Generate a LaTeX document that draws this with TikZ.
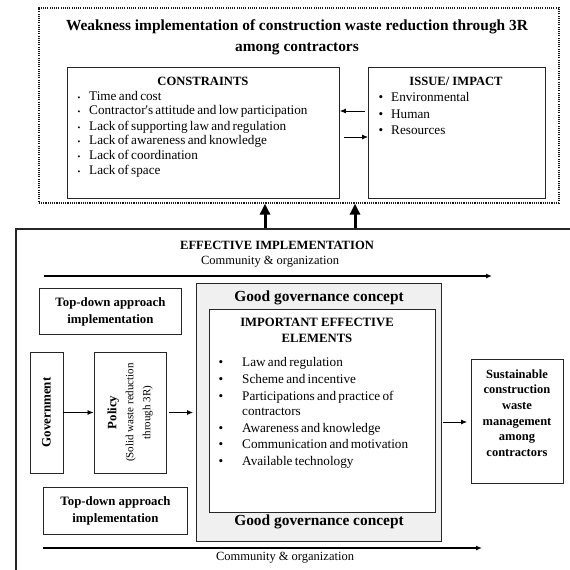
\documentclass[tikz,border=0pt]{standalone}
\usepackage{fontspec}
\setmainfont{Liberation Serif}
\newfontfamily\tightfont[WordSpace=0.7]{Liberation Serif}
\usetikzlibrary{arrows.meta}
\begin{document}
\begin{tikzpicture}[x=1pt,y=-1pt,
  box/.style={draw=black!85, line width=0.9pt, inner sep=0pt, anchor=north west},
  txt/.style={inner sep=0pt, font=\tightfont\fontsize{13.2}{14}\selectfont},
  btxt/.style={inner sep=0pt, font=\fontsize{12.6}{14}\selectfont\bfseries},
  arr/.style={-{Latex[length=6pt,width=5pt]}, line width=0.8pt},
  uparr/.style={-{Triangle[length=11pt,width=10pt]}, line width=3pt},
]
\useasboundingbox (0,0) rectangle (570,570);
% top dotted region
\node[draw=black!90, dash pattern=on 1.1pt off 1.1pt, line width=1.6pt, minimum width=520pt, minimum height=195pt, anchor=north west, inner sep=0pt] (weak) at (38,7) {};
\node[inner sep=0pt, align=center, font=\fontsize{15.4}{21}\selectfont\bfseries] (title) at (297,37) {Weakness implementation of construction waste reduction through 3R\\among contractors};
\node[box, minimum width=272pt, minimum height=131pt] (cons) at (67,67) {};
\node[box, minimum width=177pt, minimum height=131pt] (issue) at (368,67) {};
\node[btxt] (consh) at (203,81) {CONSTRAINTS};
\node[btxt] (issueh) at (456,81) {ISSUE/ IMPACT};
\foreach \t/\y [count=\i] in {Time and cost/96, Contractor's attitude and low participation/110, Lack of supporting law and regulation/126, Lack of awareness and knowledge/140, Lack of coordination/155, Lack of space/170}{
  \node[txt, anchor=base west] (c\i) at (89,\y+4) {\t};
  \node[txt, anchor=base] (cb\i) at (79,\y+4) {\footnotesize\textbullet};
}
\foreach \t/\y [count=\i] in {Environmental/97, Human/114, Resources/130}{
  \node[txt, anchor=base west] (s\i) at (391,\y+4) {\t};
  \node[txt, anchor=base] (sb\i) at (381,\y+4) {\textbullet};
}
\draw[arr] (issue.west |- {(0,111)}) ++(-3,0) -- (cons.east |- {(0,111)});
\draw[arr] (cons.east |- {(0,137)}) ++(4,0) -- (issue.west |- {(0,137)});
% bottom region
\node[draw=black!85, line width=2pt, minimum width=580pt, minimum height=360pt, anchor=north west, inner sep=0pt] (eff) at (15,228) {};
\draw[uparr] (eff.north -| {(265,0)}) -- (weak.south -| {(265,0)});
\draw[uparr] (eff.north -| {(355,0)}) -- (weak.south -| {(355,0)});
\node[btxt] (effh) at (277,245) {EFFECTIVE IMPLEMENTATION};
\node[inner sep=0pt, font=\fontsize{12.5}{14}\selectfont] (com1) at (270,262) {Community \& organization};
\coordinate (t1) at (44,276);
\coordinate (t2) at (492,276);
\draw[arr, line width=1.3pt] (t1) -- (t2);
\node[box, minimum width=142pt, minimum height=46pt, align=center, font=\fontsize{12.8}{17}\selectfont\bfseries] (td1) at (39,288) {Top-down approach\\implementation};
\node[box, minimum width=144pt, minimum height=47pt, align=center, font=\fontsize{12.8}{17}\selectfont\bfseries] (td2) at (43,487) {Top-down approach\\implementation};
\node[draw=black!85, line width=0.9pt, inner sep=0pt, rotate=90, minimum width=121pt, minimum height=33pt, font=\fontsize{13}{15}\selectfont\bfseries] (gov) at (46.5,412.5) {Government};
\node[draw=black!85, line width=0.9pt, inner sep=0pt, rotate=90, minimum width=121pt, minimum height=72pt, align=center, font=\fontsize{11}{13}\selectfont] (pol) at (130,412.5) {{\fontsize{12.8}{13}\selectfont\textbf{Policy}}\\[4pt](Solid waste reduction\\[4pt]through 3R)};
\node[box, fill=black!6, minimum width=245pt, minimum height=258pt] (gg) at (196,283) {};
\node[box, fill=white, minimum width=226pt, minimum height=203pt] (imp) at (209,309) {};
\node[inner sep=0pt, font=\fontsize{15.4}{17}\selectfont\bfseries] (gg1) at (319,298) {Good governance concept};
\node[inner sep=0pt, font=\fontsize{15.4}{17}\selectfont\bfseries] (gg2) at (319,522) {Good governance concept};
\node[align=center, inner sep=0pt, font=\fontsize{12.7}{16}\selectfont\bfseries] (imph) at (317,330) {IMPORTANT EFFECTIVE\\ELEMENTS};
\foreach \t/\y [count=\i] in {Law and regulation/362, Scheme and incentive/379, Participations and practice of/396, Awareness and knowledge/428, Communication and motivation/444, Available technology/461}{
  \node[txt, anchor=base west] (e\i) at (242,\y+4) {\t};
  \node[txt, anchor=base] (eb\i) at (221,\y+4) {\textbullet};
}
\node[txt, anchor=base west] (e7) at (242,415) {contractors};
\node[box, minimum width=92pt, minimum height=124pt] (sus) at (471,359) {};
\node[inner sep=0pt, align=center, font=\fontsize{12.5}{15.6}\selectfont\bfseries] (sust) at (517,413) {Sustainable\\construction\\waste\\management\\among\\contractors};
\draw[arr] (gov) -- (pol);
\draw[arr, shorten <=3pt, shorten >=3pt] (pol) -- (gg.west |- pol);
\draw[arr, shorten <=1pt, shorten >=4pt] (gg.east |- {(0,422)}) -- (sus.west |- {(0,422)});
\coordinate (b1) at (43,548);
\coordinate (b2) at (482,548);
\draw[arr, line width=1.3pt] (b1) -- (b2);
\node[inner sep=0pt, font=\fontsize{12.5}{14}\selectfont] (com2) at (285,558) {Community \& organization};
\end{tikzpicture}
\end{document}
